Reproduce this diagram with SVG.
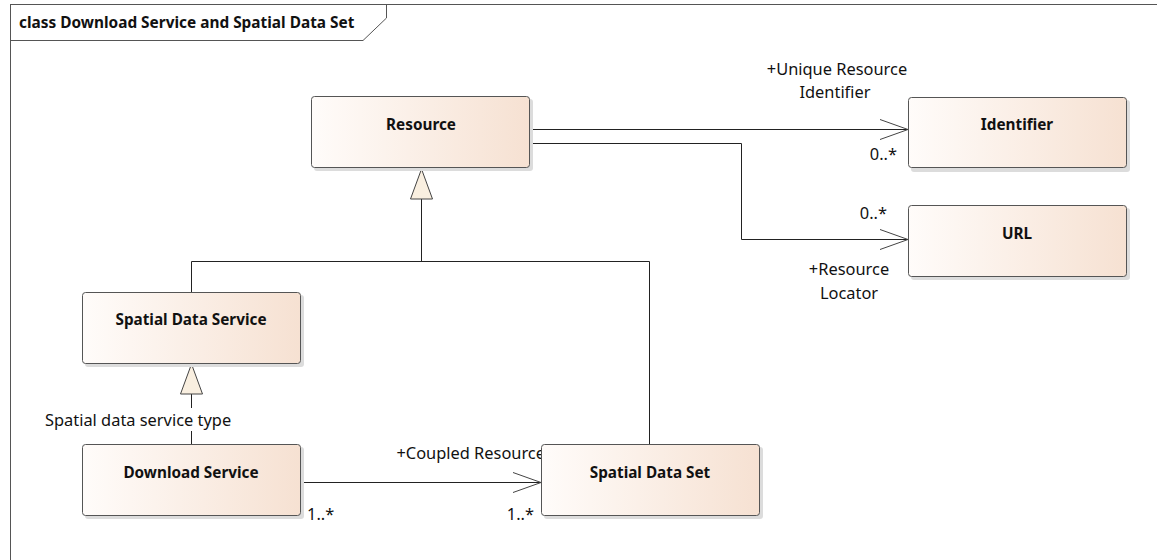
<svg xmlns="http://www.w3.org/2000/svg" width="1157" height="560" viewBox="0 0 1157 560">
<style>
.box{fill:url(#g);stroke:#555;stroke-width:1}
.sh{fill:#dcdcdc}
.nt{font-family:"Noto Sans","Open Sans",sans-serif;font-size:15.3px;font-weight:bold;fill:#111;text-anchor:middle}
.lb{font-family:"Noto Sans","Open Sans",sans-serif;font-size:16.4px;fill:#111}
.ln{fill:none;stroke:#222;stroke-width:1}
.tri{fill:#f9efe0;stroke:#444;stroke-width:1}
</style>
<defs>
<linearGradient id="g" x1="0" y1="0" x2="1" y2="0">
<stop offset="0" stop-color="#fffcfa"/>
<stop offset="1" stop-color="#f6e1d2"/>
</linearGradient>
<marker id="oa" markerWidth="30" markerHeight="24" refX="28" refY="11" orient="auto" markerUnits="userSpaceOnUse">
<path d="M0,1 L28,11 L0,21" fill="none" stroke="#444" stroke-width="1"/>
</marker>
</defs>
<rect x="0" y="0" width="1157" height="560" fill="#fff"/>
<g id="frame">
<rect x="10.5" y="4.5" width="1170" height="600" fill="none" stroke="#555"/>
<path d="M10.5,40.5 H363 L386.5,18 V4.5" fill="none" stroke="#555"/>
<text x="19" y="27.5" style="font-family:'Noto Sans','Open Sans',sans-serif;font-size:15.4px;font-weight:bold;fill:#111">class Download Service and Spatial Data Set</text>
</g>
<g id="connectors">
<path class="ln" d="M530,129.5 H908" marker-end="url(#oa)"/>
<path class="ln" d="M530,143.5 H741.5 V239.5 H908" marker-end="url(#oa)"/>
<path class="ln" d="M421.5,199 V261.5 M191.5,292 V261.5 H649.5 V444"/>
<polygon class="tri" points="421.5,169 410.5,199 432.5,199"/>
<path class="ln" d="M191.5,394 V408 M191.5,431 V444"/>
<polygon class="tri" points="191.5,364 180.5,394 202.5,394"/>
<path class="ln" d="M301,482.5 H541" marker-end="url(#oa)"/>
<text class="lb" x="837" y="75" text-anchor="middle">+Unique Resource</text>
<text class="lb" x="835" y="98" text-anchor="middle">Identifier</text>
<text class="lb" x="897" y="160" text-anchor="end">0..*</text>
<text class="lb" x="887" y="219" text-anchor="end">0..*</text>
<text class="lb" x="849" y="275" text-anchor="middle">+Resource</text>
<text class="lb" x="849" y="299" text-anchor="middle">Locator</text>
<text class="lb" x="45" y="426">Spatial data service type</text>
<text class="lb" x="545" y="459" text-anchor="end">+Coupled Resource</text>
<text class="lb" x="307" y="520">1..*</text>
<text class="lb" x="534" y="520" text-anchor="end">1..*</text>
</g>
<g id="resource">
<rect class="sh" x="314" y="99" width="219" height="72" rx="3"/>
<rect class="box" x="311.5" y="96.5" width="218" height="71" rx="3"/>
<text class="nt" x="421" y="129.5">Resource</text>
</g>
<g id="identifier">
<rect class="sh" x="911" y="100" width="219" height="72" rx="3"/>
<rect class="box" x="908.5" y="97.5" width="218" height="70" rx="3"/>
<text class="nt" x="1017" y="129.5">Identifier</text>
</g>
<g id="url">
<rect class="sh" x="911" y="208" width="219" height="72" rx="3"/>
<rect class="box" x="908.5" y="205.5" width="218" height="71" rx="3"/>
<text class="nt" x="1017" y="238.5">URL</text>
</g>
<g id="spatial-data-service">
<rect class="sh" x="85" y="295" width="219" height="72" rx="3"/>
<rect class="box" x="82.5" y="292.5" width="218" height="71" rx="3"/>
<text class="nt" x="191" y="324.5">Spatial Data Service</text>
</g>
<g id="download-service">
<rect class="sh" x="85" y="447" width="219" height="72" rx="3"/>
<rect class="box" x="82.5" y="444.5" width="218" height="71" rx="3"/>
<text class="nt" x="191" y="477.5">Download Service</text>
</g>
<g id="spatial-data-set">
<rect class="sh" x="544" y="447" width="219" height="72" rx="3"/>
<rect class="box" x="541.5" y="444.5" width="218" height="71" rx="3"/>
<text class="nt" x="650" y="477.5">Spatial Data Set</text>
</g>
</svg>
